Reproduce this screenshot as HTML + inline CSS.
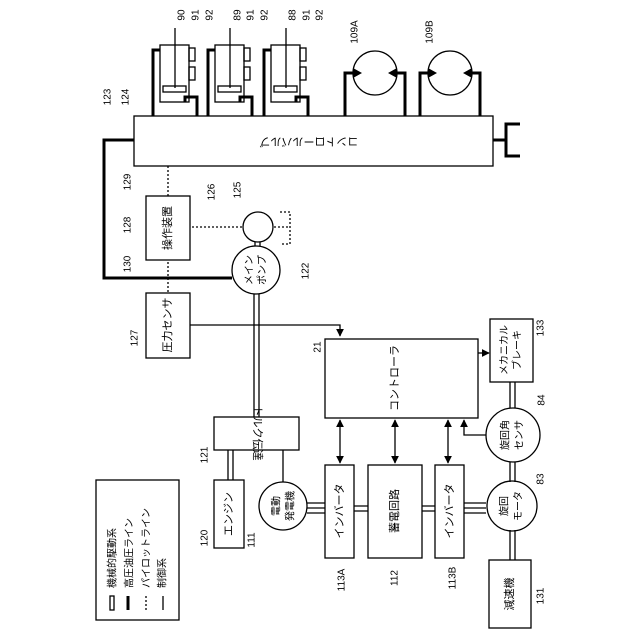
<!DOCTYPE html>
<html><head><meta charset="utf-8"><style>body{margin:0;background:#fff}svg{display:block}text{font-family:"Liberation Sans","Noto Sans CJK JP",sans-serif;fill:#000;dominant-baseline:central;text-anchor:middle}text.s{text-anchor:start}</style></head><body>
<svg width="640" height="640" viewBox="0 0 640 640" xmlns="http://www.w3.org/2000/svg">
<defs><marker id="a" viewBox="0 0 10 10" refX="9" refY="5" markerWidth="6" markerHeight="6" orient="auto-start-reverse"><path d="M0,0L10,5L0,10z" fill="#000"/></marker></defs>
<g fill="none" stroke="#000" stroke-width="1.3">
<rect x="134" y="116" width="359" height="50"/>
<path d="M493,140H506M520,124H506V156H520" stroke-width="3"/>
<g id="cyl">
<rect x="160" y="45" width="29" height="57"/>
<line x1="175" y1="28" x2="175" y2="88"/>
<rect x="163" y="86" width="23" height="6"/>
<rect x="189" y="48" width="6" height="13"/>
<rect x="189" y="67" width="6" height="13"/>
<path d="M160,50H153V116M185,102V97H197V116" stroke-width="3"/>
</g>
<use href="#cyl" x="55"/><use href="#cyl" x="111"/>
<circle cx="375" cy="73" r="22"/><circle cx="450" cy="73" r="22"/>
<path d="M345,116V73H353M405,116V73H397M420,116V73H428M480,116V73H472" stroke-width="3"/>
<path d="M134,140H104V278H232" stroke-width="3"/>
<path d="M168,166V330M168,227H243M274,227H290M280,212H290V244H280" stroke-dasharray="2,2"/>
<circle cx="258" cy="227" r="15"/>
<circle cx="256" cy="270" r="24"/>
<path d="M255,242V246M260,242V246"/>
<rect x="146" y="196" width="44" height="64" fill="#fff"/>
<rect x="146" y="293" width="44" height="65" fill="#fff"/>
<path d="M190,325H340V336" marker-end="url(#a)"/>
<rect x="325" y="339" width="153" height="79"/>
<path d="M478,353H489" marker-end="url(#a)"/>
<rect x="490" y="319" width="43" height="63"/>
<path d="M510,382V408M515,382V408M510,462V482M515,462V482M510,530V560M515,530V560"/>
<circle cx="513" cy="435" r="27"/>
<path d="M486,435H464V420" marker-end="url(#a)"/>
<line x1="340" y1="420" x2="340" y2="463" marker-start="url(#a)" marker-end="url(#a)"/>
<line x1="395" y1="420" x2="395" y2="463" marker-start="url(#a)" marker-end="url(#a)"/>
<line x1="448" y1="420" x2="448" y2="463" marker-start="url(#a)" marker-end="url(#a)"/>
<path d="M254,294V417M259,294V417"/>
<rect x="214" y="417" width="85" height="33"/>
<path d="M228,450V480M233,450V480M283,450V482"/>
<rect x="214" y="480" width="30" height="68"/>
<circle cx="283" cy="506" r="24"/>
<rect x="325" y="465" width="29" height="93"/>
<rect x="368" y="465" width="54" height="93"/>
<rect x="435" y="465" width="29" height="93"/>
<path d="M307,503H325M307,508H325M307,513H325M354,506H368M354,511H368M422,506H435M422,511H435M464,503H486M464,508H486M464,513H486"/>
<circle cx="512" cy="506" r="25"/>
<rect x="489" y="560" width="42" height="68"/>
<rect x="96" y="480" width="83" height="140"/>
<rect x="110" y="596" width="4" height="14"/>
<line x1="128" y1="596" x2="128" y2="610" stroke-width="3"/>
<line x1="146" y1="596" x2="146" y2="610" stroke-dasharray="2,2"/>
<line x1="163" y1="596" x2="163" y2="610"/>
</g>
<g fill="#000">
<path d="M353,68L362,73L353,78z M397,68L388,73L397,78z M428,68L437,73L428,78z M472,68L463,73L472,78z"/>
</g>
<g font-size="11">
<text transform="translate(309,141) rotate(180)">コントロールバルブ</text>
<text transform="translate(257,433) rotate(90)">トルク伝達</text>
<text transform="translate(168,228) rotate(-90)">操作装置</text>
<text transform="translate(168,325) rotate(-90)">圧力センサ</text>
<text transform="translate(250,270) rotate(-90)" font-size="10">メイン</text>
<text transform="translate(263,270) rotate(-90)" font-size="10">ポンプ</text>
<text transform="translate(395,378) rotate(-90)">コントローラ</text>
<text transform="translate(505,350) rotate(-90)" font-size="10">メカニカル</text>
<text transform="translate(518,350) rotate(-90)" font-size="10">ブレーキ</text>
<text transform="translate(506,435) rotate(-90)" font-size="10">旋回角</text>
<text transform="translate(520,435) rotate(-90)" font-size="10">センサ</text>
<text transform="translate(505,506) rotate(-90)" font-size="10">旋回</text>
<text transform="translate(519,506) rotate(-90)" font-size="10">モータ</text>
<text transform="translate(277,506) rotate(-90)" font-size="10">電動</text>
<text transform="translate(291,506) rotate(-90)" font-size="10">発電機</text>
<text transform="translate(229,514) rotate(-90)">エンジン</text>
<text transform="translate(340,511) rotate(-90)">インバータ</text>
<text transform="translate(450,511) rotate(-90)">インバータ</text>
<text transform="translate(395,511) rotate(-90)">蓄電回路</text>
<text transform="translate(510,594) rotate(-90)">減速機</text>
<g font-size="10">
<text class="s" transform="translate(113,588) rotate(-90)">機械的駆動系</text>
<text class="s" transform="translate(130,588) rotate(-90)">高圧油圧ライン</text>
<text class="s" transform="translate(147,588) rotate(-90)">パイロットライン</text>
<text class="s" transform="translate(163,588) rotate(-90)">制御系</text>
</g>
<g font-size="10">
<text transform="translate(182,15) rotate(-90)">90</text>
<text transform="translate(196,15) rotate(-90)">91</text>
<text transform="translate(210,15) rotate(-90)">92</text>
<text transform="translate(238,15) rotate(-90)">89</text>
<text transform="translate(251,15) rotate(-90)">91</text>
<text transform="translate(265,15) rotate(-90)">92</text>
<text transform="translate(293,15) rotate(-90)">88</text>
<text transform="translate(307,15) rotate(-90)">91</text>
<text transform="translate(320,15) rotate(-90)">92</text>
<text transform="translate(355,32) rotate(-90)">109A</text>
<text transform="translate(430,32) rotate(-90)">109B</text>
<text transform="translate(108,97) rotate(-90)">123</text>
<text transform="translate(126,97) rotate(-90)">124</text>
<text transform="translate(128,182) rotate(-90)">129</text>
<text transform="translate(128,225) rotate(-90)">128</text>
<text transform="translate(128,264) rotate(-90)">130</text>
<text transform="translate(212,192) rotate(-90)">126</text>
<text transform="translate(238,190) rotate(-90)">125</text>
<text transform="translate(306,271) rotate(-90)">122</text>
<text transform="translate(135,338) rotate(-90)">127</text>
<text transform="translate(318,347) rotate(-90)">21</text>
<text transform="translate(541,328) rotate(-90)">133</text>
<text transform="translate(542,400) rotate(-90)">84</text>
<text transform="translate(541,479) rotate(-90)">83</text>
<text transform="translate(541,596) rotate(-90)">131</text>
<text transform="translate(205,455) rotate(-90)">121</text>
<text transform="translate(205,538) rotate(-90)">120</text>
<text transform="translate(252,540) rotate(-90)">111</text>
<text transform="translate(342,580) rotate(-90)">113A</text>
<text transform="translate(395,578) rotate(-90)">112</text>
<text transform="translate(453,578) rotate(-90)">113B</text>
</g>
</g>
</svg>
</body></html>
